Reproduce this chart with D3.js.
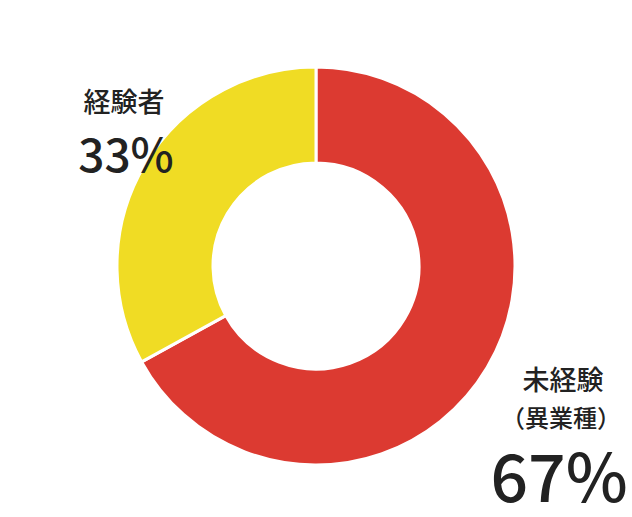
<!DOCTYPE html>
<html>
<head>
<meta charset="utf-8">
<script src="https://cdn.jsdelivr.net/npm/d3@7"></script>
<style>
  html, body { margin: 0; padding: 0; background: #fff; }
  svg text { font-family: "Noto Sans CJK JP", "Noto Sans", sans-serif; fill: #222; }
</style>
</head>
<body>
<svg id="chart" width="632" height="517"></svg>
<script>
// data
var categories = ['未経験（異業種）', '経験者'];
var values = [67, 33];
var colors = ['#dc3a31', '#f0dc24'];
var pctLabels = ['67%', '33%'];

var width = 632, height = 517,
    cx = 316, cy = 266,
    outerR = 199, innerR = 103;

var svg = d3.select('#chart');
var g = svg.append('g').attr('transform', 'translate(' + cx + ',' + cy + ')');

var pie = d3.pie().sort(null).value(function(d) { return d; });
var arc = d3.arc().innerRadius(innerR).outerRadius(outerR);

g.selectAll('path.slice')
    .data(pie(values))
    .enter().append('path')
    .attr('class', 'slice')
    .attr('d', arc)
    .attr('fill', function(d, i) { return colors[i]; })
    .attr('stroke', '#fff')
    .attr('stroke-width', 3);

// labels - 経験者
svg.append('text')
    .attr('x', 124).attr('y', 112)
    .attr('text-anchor', 'middle')
    .attr('font-size', 27).attr('font-weight', 500)
    .text(categories[1]);
svg.append('text')
    .attr('x', 126).attr('y', 172)
    .attr('text-anchor', 'middle')
    .attr('font-size', 46).attr('font-weight', 500)
    .text(pctLabels[1]);

// labels - 未経験
svg.append('text')
    .attr('x', 563).attr('y', 390)
    .attr('text-anchor', 'middle')
    .attr('font-size', 27).attr('font-weight', 500)
    .text(categories[0].slice(0, 3));
svg.append('text')
    .attr('x', 561).attr('y', 427)
    .attr('text-anchor', 'middle')
    .attr('font-size', 24).attr('font-weight', 500)
    .text(categories[0].slice(3));
svg.append('text')
    .attr('x', 559).attr('y', 502)
    .attr('text-anchor', 'middle')
    .attr('font-size', 66).attr('font-weight', 500)
    .text(pctLabels[0]);
</script>
</body>
</html>
